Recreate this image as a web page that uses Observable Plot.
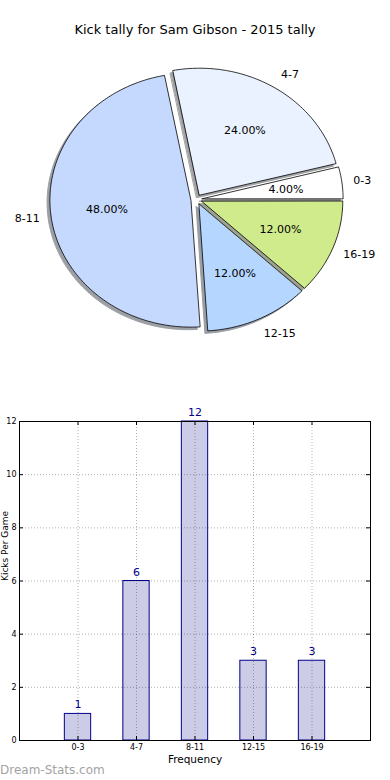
<!DOCTYPE html>
<html>
<head>
<meta charset="utf-8">
<script src="https://cdn.jsdelivr.net/npm/d3@7"></script>
<script src="https://cdn.jsdelivr.net/npm/@observablehq/plot@0.6"></script>
<style>
  body { margin: 0; background: #fff; font-family: "DejaVu Sans", sans-serif; }
  #wrap { position: relative; width: 390px; height: 780px; overflow: hidden; }
  #title { height: 60px; box-sizing: border-box; padding-top: 22px; font-size: 13px; line-height: 16px; text-align: center; color: #000; }
  #mark { position: absolute; left: 0; top: 763px; font-size: 12px; color: #a3a3a3; font-family: "DejaVu Sans", sans-serif; }
  svg { display: block; }
</style>
</head>
<body>
<div id="wrap">
  <div id="title">Kick tally for Sam Gibson - 2015 tally</div>
  <div id="pie"></div>
  <div id="bar"></div>
  <div id="mark">Dream-Stats.com</div>
</div>
<script>
const categories = ["0-3", "4-7", "8-11", "12-15", "16-19"];
const counts = [1, 6, 12, 3, 3];
const sliceColors = ["#ffffff", "#eaf2ff", "#c5d9fe", "#b5d6ff", "#d0eb8b"];
const explode = [0.04, 0.04, 0.04, 0.04, 0.04];
const yTicks = [0, 2, 4, 6, 8, 10, 12];
const yLabel = "Kicks Per Game";
const xLabel = "Frequency";

// ---------- Pie ----------
const total = d3.sum(counts);
const slices = [];
let start = 0;
counts.forEach((c, i) => {
  const a0 = start, a1 = start + c / total * 2 * Math.PI;
  start = a1;
  const mid = (a0 + a1) / 2;
  const ox = explode[i] * Math.cos(mid), oy = explode[i] * Math.sin(mid);
  const pts = [{x: ox, y: oy}];
  const n = Math.max(4, Math.ceil((a1 - a0) / (Math.PI / 180)));
  for (let k = 0; k <= n; k++) {
    const t = a0 + (a1 - a0) * k / n;
    pts.push({x: ox + Math.cos(t), y: oy + Math.sin(t)});
  }
  const shadow = pts.map(p => ({x: p.x - 0.02, y: p.y - 0.02}));
  const sc = d3.rgb(sliceColors[i]);
  const shadowColor = d3.rgb(sc.r * 0.3, sc.g * 0.3, sc.b * 0.3).formatHex();
  slices.push({
    i, pts, shadow, shadowColor, color: sliceColors[i], mid,
    label: categories[i],
    pct: (c / total * 100).toFixed(2) + "%",
    lx: (1.08 + explode[i]) * Math.cos(mid),
    ly: (1.13 + explode[i]) * Math.sin(mid),
    px: (0.6 + explode[i]) * Math.cos(mid),
    py: (0.6 + explode[i]) * Math.sin(mid)
  });
});

const pieMarks = [];
slices.forEach(s => {
  pieMarks.push(Plot.line(s.shadow, {x: "x", y: "y", curve: "linear-closed", fill: s.shadowColor, stroke: s.shadowColor, strokeWidth: 1, opacity: 0.5}));
  pieMarks.push(Plot.line(s.pts, {x: "x", y: "y", curve: "linear-closed", fill: s.color, stroke: "#000", strokeWidth: 0.8}));
});
pieMarks.push(Plot.text(slices.filter(d => d.lx > 0), {x: "lx", y: "ly", text: "label", textAnchor: "start", fontSize: 11, fill: "#000"}));
pieMarks.push(Plot.text(slices.filter(d => d.lx <= 0), {x: "lx", y: "ly", text: "label", textAnchor: "end", fontSize: 11, fill: "#000"}));
pieMarks.push(Plot.text(slices, {x: "px", y: "py", text: "pct", fontSize: 11, fill: "#000"}));

const pie = Plot.plot({
  width: 390, height: 340,
  marginLeft: 55, marginRight: 53, marginTop: 12, marginBottom: 74,
  x: {domain: [-1, 1], axis: null},
  y: {domain: [-1, 1], axis: null},
  style: {fontFamily: "DejaVu Sans", background: "transparent", overflow: "visible"},
  marks: pieMarks
});
document.getElementById("pie").appendChild(pie);

// ---------- Bars ----------
const barData = categories.map((c, i) => ({i, cat: c, v: counts[i]}));
const xDomain = [-1, categories.length];
const frameW = 390 - 19 - 20;
const unitX = (xDomain[1] - xDomain[0]) / frameW; // data units per px
const frameH = 380 - 21 - 40;
const unitY = 12 / frameH;
const half = 0.225;

const bar = Plot.plot({
  width: 390, height: 380,
  marginLeft: 19, marginRight: 20, marginTop: 21, marginBottom: 40,
  x: {domain: xDomain},
  y: {domain: [0, 12]},
  style: {fontFamily: "DejaVu Sans", background: "transparent", overflow: "visible"},
  marks: [
    Plot.rectY(barData, {x1: d => d.i - half, x2: d => d.i + half, y: "v", fill: "#ccccE6", stroke: "#00008b", strokeWidth: 1}),
    Plot.ruleX(barData, {x: "i", stroke: "#000", strokeOpacity: 0.3, strokeDasharray: "1,2"}),
    Plot.ruleY(yTicks.slice(1, -1), {stroke: "#000", strokeOpacity: 0.3, strokeDasharray: "1,2"}),
    Plot.ruleY(yTicks, {x1: xDomain[0], x2: xDomain[0] + 4 * unitX, stroke: "#000"}),
    Plot.ruleY(yTicks, {x1: xDomain[1] - 4 * unitX, x2: xDomain[1], stroke: "#000"}),
    Plot.ruleX(barData, {x: "i", y1: 0, y2: 4 * unitY, stroke: "#000"}),
    Plot.ruleX(barData, {x: "i", y1: 12 - 4 * unitY, y2: 12, stroke: "#000"}),
    Plot.frame({stroke: "#000"}),
    Plot.axisY({ticks: yTicks, tickSize: 0, tickPadding: 3, fontSize: 8, label: null, tickFormat: d => String(d)}),
    Plot.axisX({ticks: barData.map(d => d.i), tickSize: 0, tickPadding: 4, fontSize: 8, label: null, tickFormat: i => categories[i]}),
    Plot.text(barData, {x: "i", y: "v", text: d => String(d.v), dy: -9, fontSize: 11, fill: "#00008b"}),
    Plot.text([xLabel], {frameAnchor: "bottom", dy: 22, fontSize: 10.5, fill: "#000"}),
    Plot.text([yLabel], {frameAnchor: "left", dx: -14, rotate: -90, fontSize: 9, fill: "#000"})
  ]
});
document.getElementById("bar").appendChild(bar);
</script>
</body>
</html>
